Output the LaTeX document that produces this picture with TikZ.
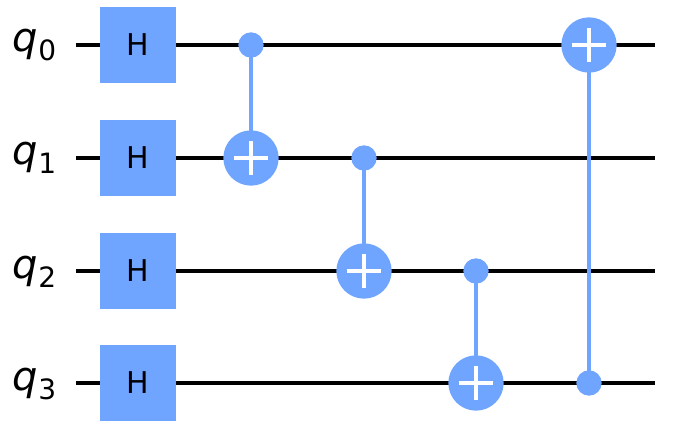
\documentclass[tikz,border=0pt]{standalone}
\usepackage{fontspec}
\setmainfont{DejaVu Sans}
\definecolor{gatecol}{HTML}{6FA4FF}
\newcommand{\qname}[1]{\textit{q}{\fontsize{21}{23}\selectfont\raisebox{-6.75pt}{#1}}}
\tikzset{
  wire/.style={line width=3.6pt,black},
  hgate/.style={fill=gatecol,minimum size=57pt,inner sep=0pt,font=\fontsize{22.5}{24}\selectfont},
  ctrl/.style={circle,fill=gatecol,minimum size=19pt,inner sep=0pt},
  targ/.style={circle,fill=gatecol,minimum size=41.5pt,inner sep=0pt},
  link/.style={line width=3.4pt,gatecol},
  plus/.style={line width=3.5pt,white},
  qlabel/.style={font=\fontsize{30}{32}\selectfont,anchor=base,inner sep=0pt}
}
\begin{document}
\begin{tikzpicture}[x=0.75pt,y=-0.75pt]
\useasboundingbox (0,0) rectangle (677,438);
\foreach \n/\y in {0/45,1/158,2/271,3/383}{
  \node[qlabel] (q\n) at (34.5,\y+7) {\qname{\n}};
  \coordinate (w\n a) at (76,\y);
  \coordinate (w\n b) at (655,\y);
  \draw[wire] (w\n a) -- (w\n b);
  \node[hgate] (h\n) at (138,\y) {H};
}
% cnot gates
\node[ctrl] (c0) at (251,45) {};
\node[targ] (t0) at (251,158) {};
\node[ctrl] (c1) at (364,158) {};
\node[targ] (t1) at (364,271) {};
\node[ctrl] (c2) at (476,271) {};
\node[targ] (t2) at (476,383) {};
\node[ctrl] (c3) at (589,383) {};
\node[targ] (t3) at (589,45) {};
\foreach \i in {0,...,3}{
  \draw[link] (c\i.center) -- (t\i.center);
  \draw[plus] ([yshift=-12.75pt]t\i.center) -- ([yshift=12.75pt]t\i.center);
  \draw[plus] ([xshift=-12.75pt]t\i.center) -- ([xshift=12.75pt]t\i.center);
}
\end{tikzpicture}
\end{document}
